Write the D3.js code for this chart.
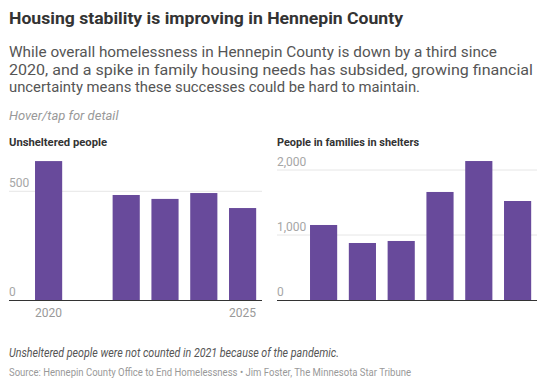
<!DOCTYPE html>
<html>
<head>
<meta charset="utf-8">
<script src="https://cdn.jsdelivr.net/npm/d3@7"></script>
<style>
  body { margin: 0; background: #fff; }
  svg { display: block; font-family: Roboto, "Noto Sans", sans-serif; }
</style>
</head>
<body>
<div id="chart"></div>
<script>
// data
const years = ["2020", "2021", "2022", "2023", "2024", "2025"];
const unsheltered = [639, null, 483, 465, 492, 423]; // 2021 not counted
const familyShelter = [1154, 877, 908, 1662, 2138, 1523];
const unshelteredTicks = [0, 500];
const familyTicks = [0, 1000, 2000];
const xTickLabels = ["2020", "2025"];

const width = 541, height = 385;
const barColor = "#684a9b";

const svg = d3.select("#chart")
  .append("svg")
  .attr("width", width)
  .attr("height", height);

svg.append("rect").attr("width", width).attr("height", height).attr("fill", "#fff");

// header text
svg.append("text")
  .attr("x", 9).attr("y", 24)
  .attr("font-size", 17).attr("font-weight", 700).attr("fill", "#333")
  .attr("textLength", 394).attr("lengthAdjust", "spacingAndGlyphs")
  .text("Housing stability is improving in Hennepin County");

const subLines = [
  "While overall homelessness in Hennepin County is down by a third since",
  "2020, and a spike in family housing needs has subsided, growing financial",
  "uncertainty means these successes could be hard to maintain."
];
const subWidths = [488, 524, 411];
subLines.forEach((t, i) => {
  svg.append("text")
    .attr("x", 9).attr("y", 57 + i * 17.5)
    .attr("font-size", 15).attr("fill", "#555")
    .attr("textLength", subWidths[i]).attr("lengthAdjust", "spacingAndGlyphs")
    .text(t);
});

svg.append("text")
  .attr("x", 9).attr("y", 119.5)
  .attr("font-size", 13).attr("font-style", "italic").attr("fill", "#999")
  .text("Hover/tap for detail");

// one small bar panel
function panel(opts) {
  const g = svg.append("g");
  const baseY = 300;

  g.append("text")
    .attr("x", opts.axisLeft).attr("y", 146)
    .attr("font-size", 11.5).attr("font-weight", 700).attr("fill", "#333")
    .attr("textLength", opts.titleWidth).attr("lengthAdjust", "spacingAndGlyphs")
    .text(opts.title);

  const x = d3.scaleBand()
    .domain(years)
    .range([opts.rangeLeft, opts.axisRight])
    .paddingInner(0.3)
    .paddingOuter(0.15);

  const y = d3.scaleLinear()
    .domain([0, opts.max])
    .range([baseY, baseY - opts.pxPerUnit * opts.max]);

  // gridlines + labels
  g.selectAll(".grid")
    .data(opts.ticks.filter(d => d > 0))
    .join("line")
    .attr("x1", opts.axisLeft).attr("x2", opts.axisRight)
    .attr("y1", d => y(d)).attr("y2", d => y(d))
    .attr("stroke", "#e6e6e6").attr("stroke-width", 1);

  g.selectAll(".ylab")
    .data(opts.ticks)
    .join("text")
    .attr("x", opts.axisLeft)
    .attr("y", d => y(d) - 4)
    .attr("font-size", 12).attr("fill", "#a6a6a6")
    .text(d => d3.format(",")(d));

  g.selectAll(".bar")
    .data(years.map((yr, i) => ({ year: yr, value: opts.values[i] })).filter(d => d.value != null))
    .join("rect")
    .attr("x", d => x(d.year))
    .attr("width", x.bandwidth())
    .attr("y", d => y(d.value))
    .attr("height", d => baseY - y(d.value))
    .attr("fill", barColor);

  g.append("line")
    .attr("x1", opts.axisLeft).attr("x2", opts.axisRight)
    .attr("y1", baseY + 0.5).attr("y2", baseY + 0.5)
    .attr("stroke", "#333").attr("stroke-width", 1);

  if (opts.xLabels) {
    g.selectAll(".xlab")
      .data(xTickLabels)
      .join("text")
      .attr("x", d => x(d) + x.bandwidth() / 2)
      .attr("y", 317)
      .attr("text-anchor", "middle")
      .attr("font-size", 12).attr("fill", "#999")
      .text(d => d);
  }
}

panel({
  title: "Unsheltered people", titleWidth: 98,
  values: unsheltered, ticks: unshelteredTicks, max: 700,
  pxPerUnit: 108.7 / 500,
  axisLeft: 9, rangeLeft: 29.2, axisRight: 262, xLabels: true
});

panel({
  title: "People in families in shelters", titleWidth: 142,
  values: familyShelter, ticks: familyTicks, max: 2200,
  pxPerUnit: 130 / 2000,
  axisLeft: 277, rangeLeft: 304.2, axisRight: 537, xLabels: false
});

// footer
svg.append("text")
  .attr("x", 9).attr("y", 357)
  .attr("font-size", 12).attr("font-style", "italic").attr("fill", "#555")
  .attr("textLength", 330).attr("lengthAdjust", "spacingAndGlyphs")
  .text("Unsheltered people were not counted in 2021 because of the pandemic.");

svg.append("text")
  .attr("x", 9).attr("y", 376)
  .attr("font-size", 11.5).attr("fill", "#999")
  .attr("textLength", 402).attr("lengthAdjust", "spacingAndGlyphs")
  .text("Source: Hennepin County Office to End Homelessness \u2022 Jim Foster, The Minnesota Star Tribune");
</script>
</body>
</html>
